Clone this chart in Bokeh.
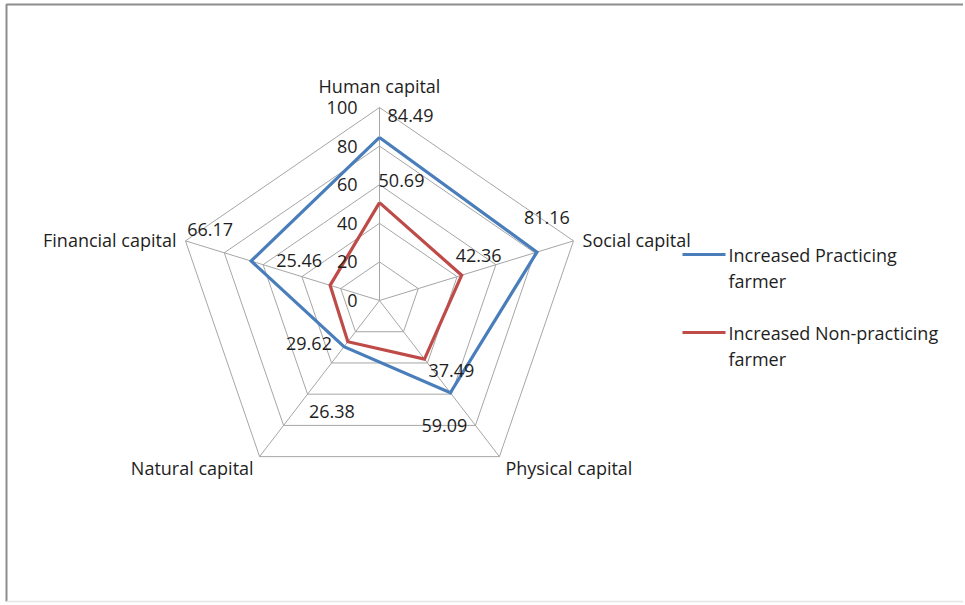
import numpy as np
from bokeh.plotting import figure
from bokeh.models import Range1d
from bokeh.core.properties import value
from bokeh.embed import file_html
from bokeh.resources import INLINE

# ---------------- data ----------------
categories = ["Human capital", "Social capital", "Physical capital", "Natural capital", "Financial capital"]
practicing = [84.49, 81.16, 59.09, 29.62, 66.17]
non_practicing = [50.69, 42.36, 37.49, 26.38, 25.46]
tick_values = [0, 20, 40, 60, 80, 100]
tick_labels = ["0", "20", "40", "60", "80", "100"]
series_names = ["Increased Practicing\nfarmer", "Increased Non-practicing\nfarmer"]

# ---------------- layout / style ----------------
W, H = 963, 603
ORG = 0                     # page position of the figure's top-left corner
CX, CY = 379, 300           # centre of radar in page pixels
SX, SY = 2.04, 1.93         # pixels per unit (x, y)
FONT = value("Open Sans")
FS = "18px"
BLUE = "#4A7EBB"
RED = "#BE4B48"
GRID = "#A6A6A6"
TXT = "#1e1e1e"

angles = np.deg2rad([90, 18, -54, -126, 162])

# label offsets in pixels (dx right, dy down) relative to each point
lab_off_prac = [(31, -22), (10, -35), (-6, 33), (-35, -3), (-41, -32)]
lab_off_non = [(22, -22), (17, -20), (27, 11), (-16, 70), (-31, -25)]
cat_off = [(0, -22), (9, -1), (6, 11), (-6, 11), (-9, -1)]
cat_align = ["center", "left", "left", "right", "right"]

def px(dx, dy):
    """pixel offset -> data offset"""
    return dx / SX, -dy / SY

def page(x, y):
    """page pixel -> data coordinate"""
    return (x - CX) / SX, (CY - y) / SY

p = figure(width=W, height=H, output_backend="svg", toolbar_location=None,
           min_border=0, x_range=Range1d((ORG - CX) / SX, (ORG + W - CX) / SX),
           y_range=Range1d((CY - ORG - H) / SY, (CY - ORG) / SY))
p.axis.visible = False
p.grid.visible = False
p.outline_line_color = None
p.background_fill_color = "white"

# chart-area border
bx0, by0 = page(6, 4)
bx1, by1 = page(963, 601)
p.line([bx1, bx0, bx0], [by0, by0, by1], line_color="#8c8c8c", line_width=2)
p.line([bx0, bx1], [by1, by1], line_color="#e6e6e6", line_width=1.5)

# grid rings
for t in tick_values[1:]:
    xs = list(t * np.cos(angles)) + [t * np.cos(angles[0])]
    ys = list(t * np.sin(angles)) + [t * np.sin(angles[0])]
    p.line(xs, ys, line_color=GRID, line_width=1)
# spokes
top = tick_values[-1]
for a in angles:
    p.line([0, top * np.cos(a)], [0, top * np.sin(a)], line_color=GRID, line_width=1)

# series
def poly(vals):
    v = np.array(vals)
    xs = v * np.cos(angles)
    ys = v * np.sin(angles)
    return list(xs) + [xs[0]], list(ys) + [ys[0]]

for vals, col in [(non_practicing, RED), (practicing, BLUE)]:
    xs, ys = poly(vals)
    p.line(xs, ys, line_color=col, line_width=3.2, line_join="miter")

# data labels
for vals, offs in [(practicing, lab_off_prac), (non_practicing, lab_off_non)]:
    lx, ly, lt = [], [], []
    for v, a, (dx, dy) in zip(vals, angles, offs):
        ox, oy = px(dx, dy)
        lx.append(v * np.cos(a) + ox)
        ly.append(v * np.sin(a) + oy)
        lt.append(f"{v:.2f}")
    p.text(lx, ly, text=lt, text_font=FONT, text_font_size=FS, text_color=TXT,
           text_align="center", text_baseline="middle")

# tick labels along the first axis
ox, _ = px(-22, 0)
p.text([ox] * len(tick_values), tick_values, text=tick_labels, text_font=FONT,
       text_font_size=FS, text_color=TXT, text_align="right", text_baseline="middle")

# category labels
for c, a, (dx, dy), al in zip(categories, angles, cat_off, cat_align):
    ox, oy = px(dx, dy)
    p.text([top * np.cos(a) + ox], [top * np.sin(a) + oy], text=[c], text_font=FONT,
           text_font_size=FS, text_color=TXT, text_align=al, text_baseline="middle")

# legend (drawn manually)
leg_rows = [(254, BLUE), (332, RED)]
for (yy, col), name in zip(leg_rows, series_names):
    x0, y0 = page(682, yy)
    x1, _ = page(725, yy)
    p.line([x0, x1], [y0, y0], line_color=col, line_width=3.2)
    lines = name.split("\n")
    for k, ln in enumerate(lines):
        tx, ty = page(728, yy + k * 26)
        p.text([tx], [ty], text=[ln], text_font=FONT, text_font_size=FS,
               text_color=TXT, text_align="left", text_baseline="middle")

open("out.html", "w").write(file_html(p, INLINE))
